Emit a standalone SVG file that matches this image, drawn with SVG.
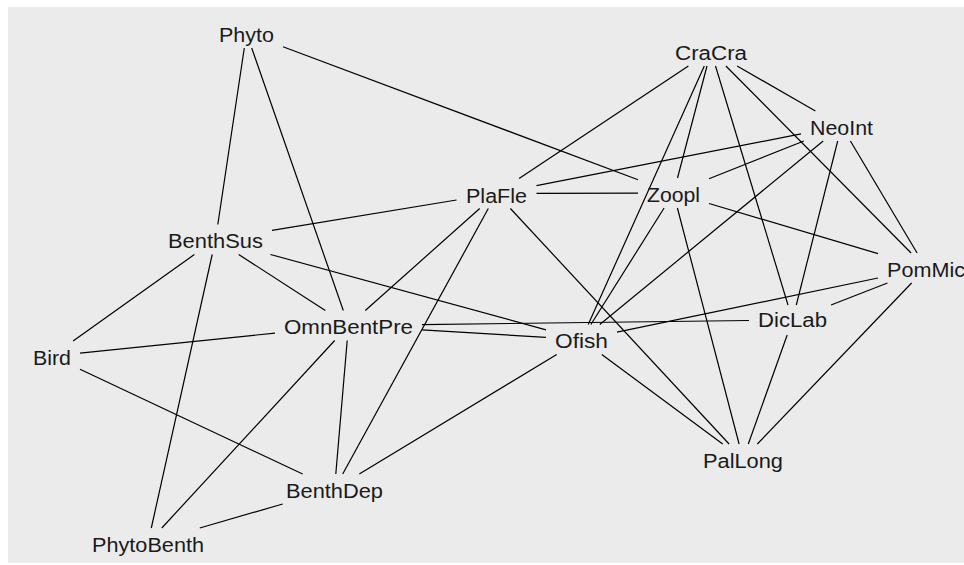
<svg xmlns="http://www.w3.org/2000/svg" width="964" height="565" viewBox="0 0 964 565">
<style>
.bg{fill:#EBEBEB}
.e line{stroke:#000;stroke-width:1.2;stroke-linecap:butt}
.n text{font-family:"Liberation Sans",Arial,sans-serif;font-size:19.5px;fill:#1a1a1a;text-anchor:middle}
</style>
<rect x="0" y="0" width="964" height="565" fill="#fff"/>
<rect class="bg" x="8" y="7" width="956" height="556"/>
<g id="edges" class="e">
<line x1="244.3" y1="48" x2="217.8" y2="224.5"/>
<line x1="251.7" y1="48" x2="343.3" y2="310.5"/>
<line x1="283" y1="46.7" x2="638" y2="179.7"/>
<line x1="688.4" y1="66" x2="519.1" y2="178.5"/>
<line x1="707" y1="66" x2="677.5" y2="178"/>
<line x1="704.3" y1="66" x2="588.2" y2="324.5"/>
<line x1="715.5" y1="66" x2="788" y2="305"/>
<line x1="725.9" y1="66" x2="911.1" y2="253"/>
<line x1="737.1" y1="66" x2="815.4" y2="111"/>
<line x1="456.5" y1="200" x2="272" y2="230.3"/>
<line x1="479.7" y1="208.5" x2="365.3" y2="310.5"/>
<line x1="488.3" y1="208.5" x2="342.7" y2="474"/>
<line x1="536.5" y1="185.7" x2="801" y2="133.9"/>
<line x1="536.5" y1="193.4" x2="638" y2="193.1"/>
<line x1="510.4" y1="208.5" x2="729.1" y2="444"/>
<line x1="709" y1="178.8" x2="803.9" y2="141"/>
<line x1="709" y1="203.5" x2="878" y2="253.7"/>
<line x1="664.1" y1="208" x2="590.9" y2="324.5"/>
<line x1="677.4" y1="208" x2="739.1" y2="444"/>
<line x1="823.2" y1="141" x2="599.8" y2="324.5"/>
<line x1="837.7" y1="141" x2="796.3" y2="305"/>
<line x1="850.4" y1="141" x2="917.1" y2="253"/>
<line x1="878" y1="278" x2="617" y2="332.1"/>
<line x1="887.5" y1="283" x2="831" y2="305"/>
<line x1="911.6" y1="283" x2="757.4" y2="444"/>
<line x1="787.2" y1="335" x2="748.3" y2="444"/>
<line x1="422" y1="324.6" x2="749" y2="320.5"/>
<line x1="270.4" y1="254.5" x2="546" y2="329.8"/>
<line x1="422" y1="329.9" x2="546" y2="337.4"/>
<line x1="601.8" y1="354.5" x2="722.7" y2="444"/>
<line x1="556.7" y1="354.5" x2="359.3" y2="474"/>
<line x1="325.3" y1="310.5" x2="238.7" y2="254.5"/>
<line x1="275" y1="333.1" x2="80" y2="353.1"/>
<line x1="347.2" y1="340.5" x2="335.8" y2="474"/>
<line x1="334.7" y1="340.5" x2="161.8" y2="528"/>
<line x1="194.4" y1="254.5" x2="73.1" y2="341"/>
<line x1="212.2" y1="254.5" x2="151.3" y2="528"/>
<line x1="80" y1="369.2" x2="302.6" y2="474"/>
<line x1="282.7" y1="504" x2="199.8" y2="528"/>
</g>
<g class="n">
<g id="Phyto"><text x="246.5" y="42" textLength="55" lengthAdjust="spacingAndGlyphs">Phyto</text></g>
<g id="CraCra"><text x="711" y="60" textLength="72" lengthAdjust="spacingAndGlyphs">CraCra</text></g>
<g id="NeoInt"><text x="841.5" y="135" textLength="63" lengthAdjust="spacingAndGlyphs">NeoInt</text></g>
<g id="PlaFle"><text x="496.5" y="203" textLength="61" lengthAdjust="spacingAndGlyphs">PlaFle</text></g>
<g id="Zoopl"><text x="673.5" y="202" textLength="53" lengthAdjust="spacingAndGlyphs">Zoopl</text></g>
<g id="BenthSus"><text x="215.5" y="248" textLength="95" lengthAdjust="spacingAndGlyphs">BenthSus</text></g>
<g id="PomMic"><text x="926" y="277" textLength="78" lengthAdjust="spacingAndGlyphs">PomMic</text></g>
<g id="OmnBentPre"><text x="348.5" y="334" textLength="129" lengthAdjust="spacingAndGlyphs">OmnBentPre</text></g>
<g id="Ofish"><text x="581.5" y="348" textLength="53" lengthAdjust="spacingAndGlyphs">Ofish</text></g>
<g id="DicLab"><text x="792.5" y="327" textLength="69" lengthAdjust="spacingAndGlyphs">DicLab</text></g>
<g id="Bird"><text x="52" y="365" textLength="38" lengthAdjust="spacingAndGlyphs">Bird</text></g>
<g id="BenthDep"><text x="334.5" y="498" textLength="97" lengthAdjust="spacingAndGlyphs">BenthDep</text></g>
<g id="PhytoBenth"><text x="148" y="552" textLength="112" lengthAdjust="spacingAndGlyphs">PhytoBenth</text></g>
<g id="PalLong"><text x="743" y="468" textLength="80" lengthAdjust="spacingAndGlyphs">PalLong</text></g>
</g>
</svg>
